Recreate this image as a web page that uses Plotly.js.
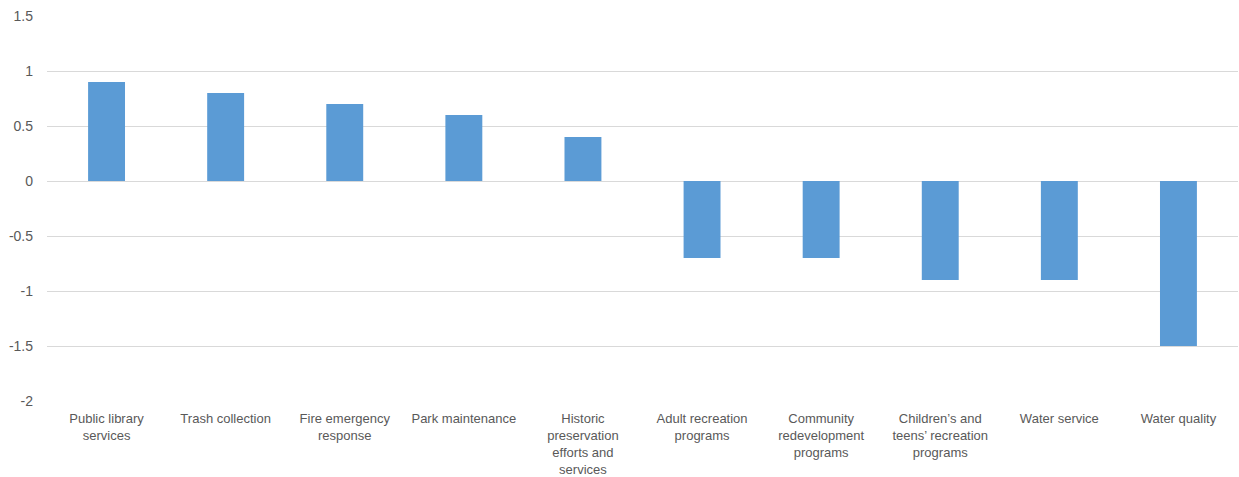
<!DOCTYPE html>
<html>
<head>
<meta charset="utf-8">
<script src="https://cdn.plot.ly/plotly-3.0.1.min.js"></script>
<style>
  html, body { margin: 0; padding: 0; background: #fff; }
  #chart { width: 1239px; height: 477px; }
</style>
</head>
<body>
<div id="chart"></div>
<script>
// Service categories (line breaks follow the axis label wrapping)
const categories = [
  "Public library<br>services",
  "Trash collection",
  "Fire emergency<br>response",
  "Park maintenance",
  "Historic<br>preservation<br>efforts and<br>services",
  "Adult recreation<br>programs",
  "Community<br>redevelopment<br>programs",
  "Children’s and<br>teens’ recreation<br>programs",
  "Water service",
  "Water quality"
];

// Score for each service
const scores = [0.9, 0.8, 0.7, 0.6, 0.4, -0.7, -0.7, -0.9, -0.9, -1.5];

// Y-axis ticks
const yTickVals = [-2, -1.5, -1, -0.5, 0, 0.5, 1, 1.5];
const yTickText = ["-2", "-1.5", "-1", "-0.5", "0", "0.5", "1", "1.5"];

const trace = {
  type: "bar",
  x: categories,
  y: scores,
  marker: { color: "#5b9bd5", line: { width: 0 } },
  hoverinfo: "x+y"
};

const layout = {
  width: 1239,
  height: 477,
  margin: { l: 47, r: 1, t: 16, b: 76 },
  paper_bgcolor: "#ffffff",
  plot_bgcolor: "#ffffff",
  bargap: 0.69,
  showlegend: false,
  font: { family: "Liberation Sans, Arial, sans-serif", size: 13, color: "#595959" },
  xaxis: {
    type: "category",
    showgrid: false,
    showline: false,
    zeroline: false,
    ticks: "",
    ticklabelstandoff: 8,
    tickangle: 0,
    tickfont: { size: 13, color: "#595959" }
  },
  yaxis: {
    range: [-2, 1.5],
    tickvals: yTickVals,
    ticktext: yTickText,
    showgrid: true,
    gridcolor: "#d9d9d9",
    gridwidth: 1,
    zeroline: true,
    zerolinecolor: "#d9d9d9",
    zerolinewidth: 1,
    showline: false,
    ticks: "",
    ticklabelstandoff: 13,
    tickfont: { size: 14, color: "#595959" }
  }
};

Plotly.newPlot("chart", [trace], layout, { displayModeBar: false, staticPlot: true });
</script>
</body>
</html>
